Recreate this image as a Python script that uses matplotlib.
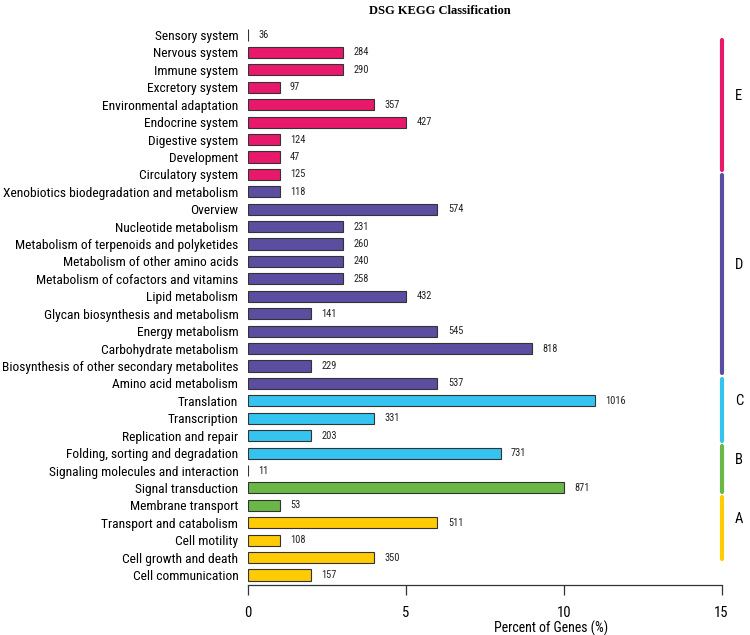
import matplotlib
matplotlib.use("Agg")
import matplotlib.pyplot as plt
from matplotlib import font_manager

names = {f.name for f in font_manager.fontManager.ttflist}
narrow = "Liberation Sans"
for cand in ["Nimbus Sans Narrow", "Liberation Sans Narrow", "Arial Narrow",
             "Roboto Condensed", "PT Sans Narrow", "Archivo Narrow"]:
    if cand in names:
        narrow = cand
        break

categories = [
    "Sensory system", "Nervous system", "Immune system", "Excretory system",
    "Environmental adaptation", "Endocrine system", "Digestive system",
    "Development", "Circulatory system",
    "Xenobiotics biodegradation and metabolism", "Overview",
    "Nucleotide metabolism", "Metabolism of terpenoids and polyketides",
    "Metabolism of other amino acids", "Metabolism of cofactors and vitamins",
    "Lipid metabolism", "Glycan biosynthesis and metabolism",
    "Energy metabolism", "Carbohydrate metabolism",
    "Biosynthesis of other secondary metabolites", "Amino acid metabolism",
    "Translation", "Transcription", "Replication and repair",
    "Folding, sorting and degradation",
    "Signaling molecules and interaction", "Signal transduction",
    "Membrane transport",
    "Transport and catabolism", "Cell motility", "Cell growth and death",
    "Cell communication",
]
percent = [0, 3, 3, 1, 4, 5, 1, 1, 1,
           1, 6, 3, 3, 3, 3, 5, 2, 6, 9, 2, 6,
           11, 4, 2, 8,
           0, 10, 1,
           6, 1, 4, 2]
counts = [36, 284, 290, 97, 357, 427, 124, 47, 125,
          118, 574, 231, 260, 240, 258, 432, 141, 545, 818, 229, 537,
          1016, 331, 203, 731,
          11, 871, 53,
          511, 108, 350, 157]
groups = ["E"] * 9 + ["D"] * 12 + ["C"] * 4 + ["B"] * 3 + ["A"] * 4
group_colors = {"E": "#E8196B", "D": "#5B4EA0", "C": "#35C4F0",
                "B": "#6BB746", "A": "#FFCB05"}
group_order = ["E", "D", "C", "B", "A"]
# vertical extent of the group bracket lines (in bar-index units)
group_span = {"E": (0.29, 7.75), "D": (8.04, 19.4), "C": (19.75, 23.31),
              "B": (23.59, 26.23), "A": (26.52, 30.08)}

W, H = 750, 635
fig = plt.figure(figsize=(W / 100, H / 100), dpi=100)
x0, x1 = 248, 721.5
ytop, ybot = 20, 585
ax = fig.add_axes([x0 / W, 1 - ybot / H, (x1 - x0) / W, (ybot - ytop) / H])
unit = 17.42
ax.set_xlim(0, 15)
ax.set_ylim((ybot - 35) / unit, (ytop - 35) / unit)

ys = list(range(len(categories)))
cols = [group_colors[g] for g in groups]
ax.barh(ys, percent, height=0.64, color=cols, edgecolor="#333333",
        linewidth=0.8)
for y, p, c in zip(ys, percent, counts):
    ax.annotate(str(c), (p, y), xytext=(7.5, 0), textcoords="offset points",
                ha="left", va="center", fontsize=7.5, family=narrow,
                color="#222222")

ax.set_yticks(ys)
ax.set_yticklabels(categories, fontsize=9.7, family=narrow)
ax.tick_params(axis="y", length=0, pad=7)

for s in ["top", "right", "left"]:
    ax.spines[s].set_visible(False)
ax.spines["bottom"].set_bounds(0, 15)
ax.spines["bottom"].set_color("#333333")
ax.spines["bottom"].set_linewidth(0.9)
ax.set_xticks([0, 5, 10, 15])
ax.set_xticklabels(["0", "5", "10", "15"], fontsize=10.5, family=narrow)
ax.tick_params(axis="x", length=7, width=0.9, color="#333333", pad=8)
ax.text(9.6, (628 - 35) / unit, "Percent of Genes (%)", ha="center",
        va="center", fontsize=10, family=narrow)

for g in group_order:
    a, b = group_span[g]
    ax.plot([15.02, 15.02], [a, b], color=group_colors[g], lw=3,
            solid_capstyle="round", clip_on=False)
    ax.text(15.55, (a + b) / 2 - 0.52, g, ha="center", va="center",
            fontsize=10.5, family=narrow)

fig.text(440 / W, 1 - 11 / H, "DSG KEGG Classification", ha="center",
         va="center", fontsize=9, fontweight="bold", family="Liberation Serif")

fig.savefig("out.png", dpi=100)
